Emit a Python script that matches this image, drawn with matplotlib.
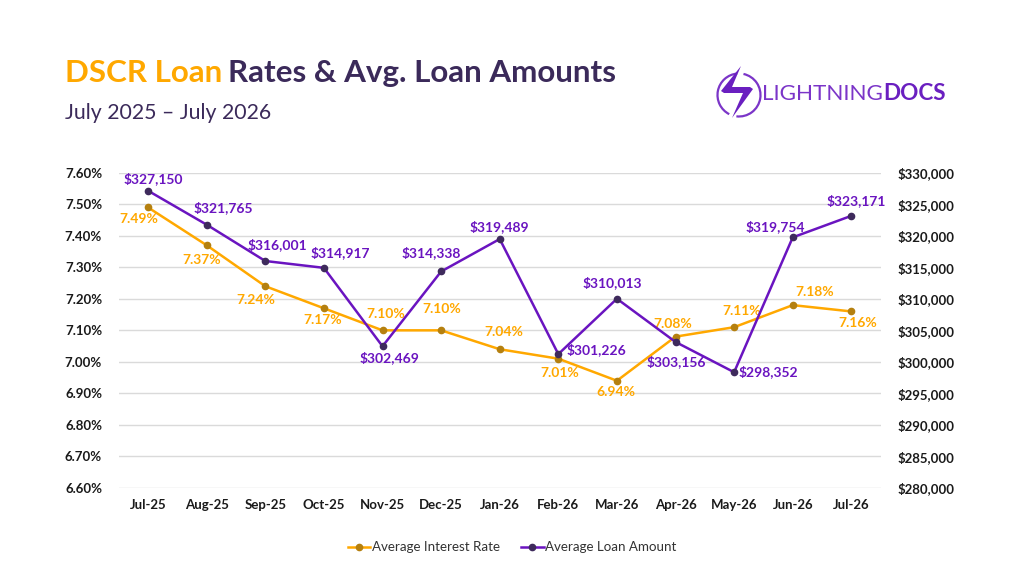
import matplotlib
matplotlib.use("Agg")
import matplotlib.pyplot as plt
from matplotlib.patches import Arc, Polygon
from matplotlib.ticker import FuncFormatter, MultipleLocator

months = ["Jul-25", "Aug-25", "Sep-25", "Oct-25", "Nov-25", "Dec-25", "Jan-26",
          "Feb-26", "Mar-26", "Apr-26", "May-26", "Jun-26", "Jul-26"]
rates = [7.49, 7.37, 7.24, 7.17, 7.10, 7.10, 7.04, 7.01, 6.94, 7.08, 7.11, 7.18, 7.16]
amounts = [327150, 321765, 316001, 314917, 302469, 314338, 319489,
           301226, 310013, 303156, 298352, 319754, 323171]

# label offsets (points) - styling only
rate_off = [(-6.5, -8.6), (-3.6, -10.3), (-6.7, -9.6), (-1, -8.2), (2.4, 11.8),
            (0.7, 15.4), (3.1, 12.7), (0.7, -10), (-0.7, -8), (-1.7, 9.4),
            (5.8, 12), (15.6, 9.6), (4.8, -8.4)]
amt_off = [(3.4, 8.9), (12, 12.2), (8.9, 11.8), (12, 11.3), (4.8, -8),
           (-7.2, 13.7), (-0.5, 8.6), (27.6, 3.1), (-3.1, 11.5), (0.5, -14.2),
           (25, 0.7), (-12.5, 7.7), (3.4, 10.8)]

ORANGE = "#FFA800"
ORANGE_M = "#B5800F"
PURPLE = "#6A14C0"
PURPLE_M = "#3E2A5C"
TITLE_P = "#3B2A5A"

plt.rcParams['font.family'] = ['Lato', 'DejaVu Sans']

fig = plt.figure(figsize=(10.24, 5.76), dpi=100)
ax = fig.add_axes([0.116, 0.153, 0.744, 0.547])
ax2 = ax.twinx()

x = list(range(len(months)))
ax.plot(x, rates, color=ORANGE, lw=1.8, marker='o', ms=4.5, mfc=ORANGE_M, mec=ORANGE_M,
        label="Average Interest Rate", zorder=3)
ax2.plot(x, amounts, color=PURPLE, lw=1.8, marker='o', ms=4.5, mfc=PURPLE_M, mec=PURPLE_M,
         label="Average Loan Amount", zorder=3)

ax.set_ylim(6.60, 7.60)
ax2.set_ylim(280000, 330000)
ax.set_xlim(-0.5, len(months) - 0.5)
ax.yaxis.set_major_locator(MultipleLocator(0.10))
ax2.yaxis.set_major_locator(MultipleLocator(5000))
ax.yaxis.set_major_formatter(FuncFormatter(lambda v, p: f"{v:.2f}%"))
ax2.yaxis.set_major_formatter(FuncFormatter(lambda v, p: f"${v:,.0f}"))
ax.set_xticks(x)
ax.set_xticklabels(months)

ax.grid(axis='y', color='#DADADA', lw=1)
ax.set_axisbelow(True)
for a in (ax, ax2):
    for s in a.spines.values():
        s.set_visible(False)
    a.tick_params(length=0, labelsize=9.5, colors='#1A1A1A')
    for lab in a.get_yticklabels() + a.get_xticklabels():
        lab.set_fontweight('bold')
ax.tick_params(axis='y', pad=12)
ax2.tick_params(axis='y', pad=12)
ax.tick_params(axis='x', pad=8)

for i, (v, off) in enumerate(zip(rates, rate_off)):
    ax.annotate(f"{v:.2f}%", (i, v), xytext=off, textcoords='offset points',
                ha='center', va='center', color=ORANGE, fontsize=10, fontweight='bold')
for i, (v, off) in enumerate(zip(amounts, amt_off)):
    ax2.annotate(f"${v:,.0f}", (i, v), xytext=off, textcoords='offset points',
                 ha='center', va='center', color=PURPLE, fontsize=10, fontweight='bold')

# legend
h1, l1 = ax.get_legend_handles_labels()
h2, l2 = ax2.get_legend_handles_labels()
fig.legend(h1 + h2, l1 + l2, loc='center', bbox_to_anchor=(0.5, 0.05), ncol=2,
           frameon=False, fontsize=9.6, handlelength=1.7, handletextpad=0.1,
           columnspacing=1.6, labelcolor='#333333')

# title
t1 = fig.text(0.063, 0.858, "DSCR Loan", fontsize=22.6, fontweight='bold', color=ORANGE,
              va='baseline')
fig.canvas.draw()
bb = t1.get_window_extent()
fig.text(bb.x1 / fig.bbox.width + 0.006, 0.858, "Rates & Avg. Loan Amounts", fontsize=22.6,
         fontweight='bold', color=TITLE_P, va='baseline')
fig.text(0.063, 0.794, "July 2025 \u2013 July 2026", fontsize=15.3, color=TITLE_P,
         va='baseline')

# logo (pixel box 710..770 x 62..122)
lax = fig.add_axes([710 / 1024, 1 - 122 / 576, 60 / 1024, 60 / 576])
lax.set_xlim(0, 60)
lax.set_ylim(0, 60)
lax.axis('off')
lax.add_patch(Arc((29, 27), 43, 43, theta1=95, theta2=243, color='#7B35C8', lw=1.6))
lax.add_patch(Arc((29, 27), 43, 43, theta1=263, theta2=438, color='#7B35C8', lw=1.6))
bolt = [(31, 56), (11, 31), (14, 29), (33, 29), (22, 4), (43, 33), (40, 35), (22, 35)]
lax.add_patch(Polygon(bolt, closed=True, fc='#6A1FC0', ec='none'))
t3 = fig.text(762 / 1024, 1 - 94 / 576, "LIGHTNING", fontsize=16.2, color='#7B35C8',
              va='center')
fig.canvas.draw()
bb3 = t3.get_window_extent()
fig.text(bb3.x1 / fig.bbox.width, 1 - 94 / 576, "DOCS", fontsize=16.2, color='#6A1FC0',
         va='center', fontweight='bold')

fig.savefig("out.png", dpi=100, facecolor='white')
